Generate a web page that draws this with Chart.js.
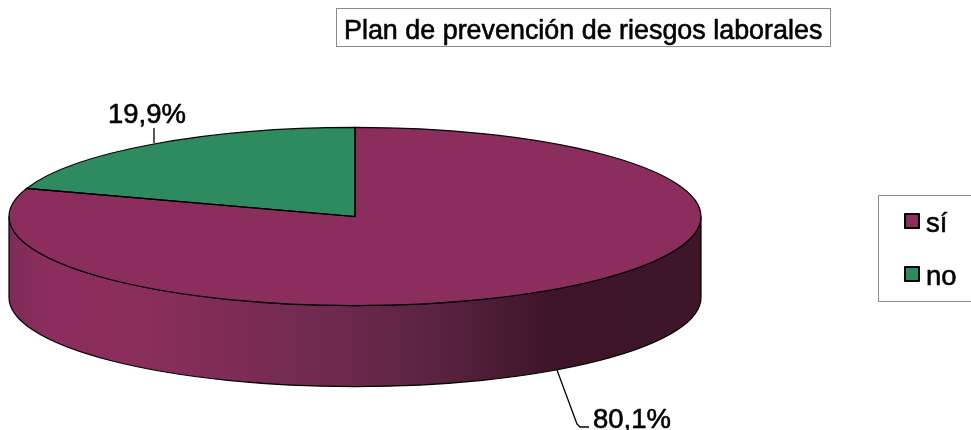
<!DOCTYPE html>
<html>
<head>
<meta charset="utf-8">
<script src="https://cdn.jsdelivr.net/npm/chart.js@4"></script>
<style>
  html, body { margin: 0; padding: 0; background: #fff; overflow: hidden; }
  canvas { display: block; }
</style>
</head>
<body>
<canvas id="chart" width="971" height="430"></canvas>
<script>
/* datos */
const TITLE = "Plan de prevención de riesgos laborales";
const categories = ["sí", "no"];
const values = [80.1, 19.9];
const colors = ["#8c2e5d", "#2e8b5f"];

/* geometría del "3D" */
const SQUASH = 0.2575;   // aplastamiento vertical de la elipse
const DEPTH = 81;        // alto de la pared
const FONT = '26.9px "Liberation Sans", Arial, sans-serif';
const FONT_LABEL = '27.5px "Liberation Sans", Arial, sans-serif';

const pctText = (v) => v.toFixed(1).replace(".", ",") + "%";

function box(ctx, x, y, w, h) {
  ctx.strokeStyle = "#8a8a8a";
  ctx.lineWidth = 1;
  ctx.strokeRect(x + 0.5, y + 0.5, w, h);
}

/* texto un poco más grueso, como en el original */
function heavyText(ctx, text, x, y) {
  ctx.strokeStyle = "#000";
  ctx.lineWidth = 0.6;
  ctx.lineJoin = "round";
  ctx.strokeText(text, x, y);
  ctx.fillText(text, x, y);
}

/* pared lateral, antes de las porciones */
function drawWall(ctx, arc) {
  const { x, y, outerRadius: r } = arc.getProps(["x", "y", "outerRadius"], true);
  const ry = r * SQUASH;
  const grad = ctx.createLinearGradient(x - r, 0, x + r, 0);
  grad.addColorStop(0, "#7e2b58");
  grad.addColorStop(0.06, "#8c2e5d");
  grad.addColorStop(0.2, "#8a2e5c");
  grad.addColorStop(0.45, "#702a50");
  grad.addColorStop(0.62, "#5a2340");
  grad.addColorStop(0.78, "#3e1528");
  grad.addColorStop(1, "#3e1629");
  ctx.beginPath();
  ctx.moveTo(x - r, y);
  ctx.lineTo(x - r, y + DEPTH);
  ctx.ellipse(x, y + DEPTH, r, ry, 0, Math.PI, 0, true);
  ctx.lineTo(x + r, y);
  ctx.ellipse(x, y, r, ry, 0, 0, Math.PI, false);
  ctx.closePath();
  ctx.fillStyle = grad;
  ctx.fill();
  ctx.strokeStyle = "#000";
  ctx.lineWidth = 1.2;
  ctx.stroke();
}

/* contorno de cada porción, con grosor uniforme */
function outlineArcs(ctx, arcs) {
  arcs.forEach((a) => {
    const p = a.getProps(["x", "y", "startAngle", "endAngle", "outerRadius"], true);
    ctx.save();
    ctx.translate(p.x, p.y);
    ctx.scale(1, SQUASH);
    ctx.beginPath();
    ctx.moveTo(0, 0);
    ctx.arc(0, 0, p.outerRadius, p.startAngle, p.endAngle);
    ctx.closePath();
    ctx.restore();
    ctx.strokeStyle = "#000";
    ctx.lineWidth = 1.2;
    ctx.stroke();
  });
}

function drawTexts(ctx) {
  ctx.save();
  ctx.fillStyle = "#000";
  ctx.textBaseline = "alphabetic";
  ctx.textAlign = "left";
  ctx.font = FONT;

  // título
  box(ctx, 336, 8, 494, 38);
  heavyText(ctx, TITLE, 344, 39);

  // etiquetas con sus líneas guía
  ctx.strokeStyle = "#000";
  ctx.lineWidth = 1.3;
  ctx.beginPath();
  ctx.moveTo(154, 128);
  ctx.lineTo(154, 143);
  ctx.moveTo(557, 370);
  ctx.lineTo(577, 424);
  ctx.lineTo(580, 427);
  ctx.lineTo(589, 427);
  ctx.stroke();
  ctx.font = FONT_LABEL;
  heavyText(ctx, pctText(values[1]), 108, 123);
  heavyText(ctx, pctText(values[0]), 593, 428);

  // leyenda
  box(ctx, 878, 195, 100, 106);
  const rows = [222, 275];
  categories.forEach((c, i) => {
    ctx.fillStyle = colors[i];
    ctx.fillRect(905, rows[i] - 8, 14, 14);
    ctx.strokeStyle = "#000";
    ctx.lineWidth = 2;
    ctx.strokeRect(905, rows[i] - 8, 14, 14);
    ctx.fillStyle = "#000";
    heavyText(ctx, c, 926, rows[i] + 10);
  });
  ctx.restore();
}

const pie3d = {
  id: "pie3d",
  beforeDatasetsDraw(chart) {
    const ctx = chart.ctx;
    const arcs = chart.getDatasetMeta(0).data;
    drawWall(ctx, arcs[0]);
    const { y } = arcs[0].getProps(["y"], true);
    ctx.save();
    ctx.translate(0, y);
    ctx.scale(1, SQUASH);
    ctx.translate(0, -y);
  },
  afterDatasetsDraw(chart) {
    const ctx = chart.ctx;
    ctx.restore();
    outlineArcs(ctx, chart.getDatasetMeta(0).data);
    drawTexts(ctx);
  },
};

new Chart(document.getElementById("chart"), {
  type: "pie",
  data: {
    labels: categories,
    datasets: [
      {
        data: values,
        backgroundColor: colors,
        borderWidth: 0,
        clip: false,
      },
    ],
  },
  options: {
    responsive: false,
    animation: false,
    radius: 346,
    layout: { padding: { left: 9, right: 270, top: 3, bottom: 0 } },
    plugins: { legend: { display: false }, title: { display: false }, tooltip: { enabled: false } },
  },
  plugins: [pie3d],
});
</script>
</body>
</html>
